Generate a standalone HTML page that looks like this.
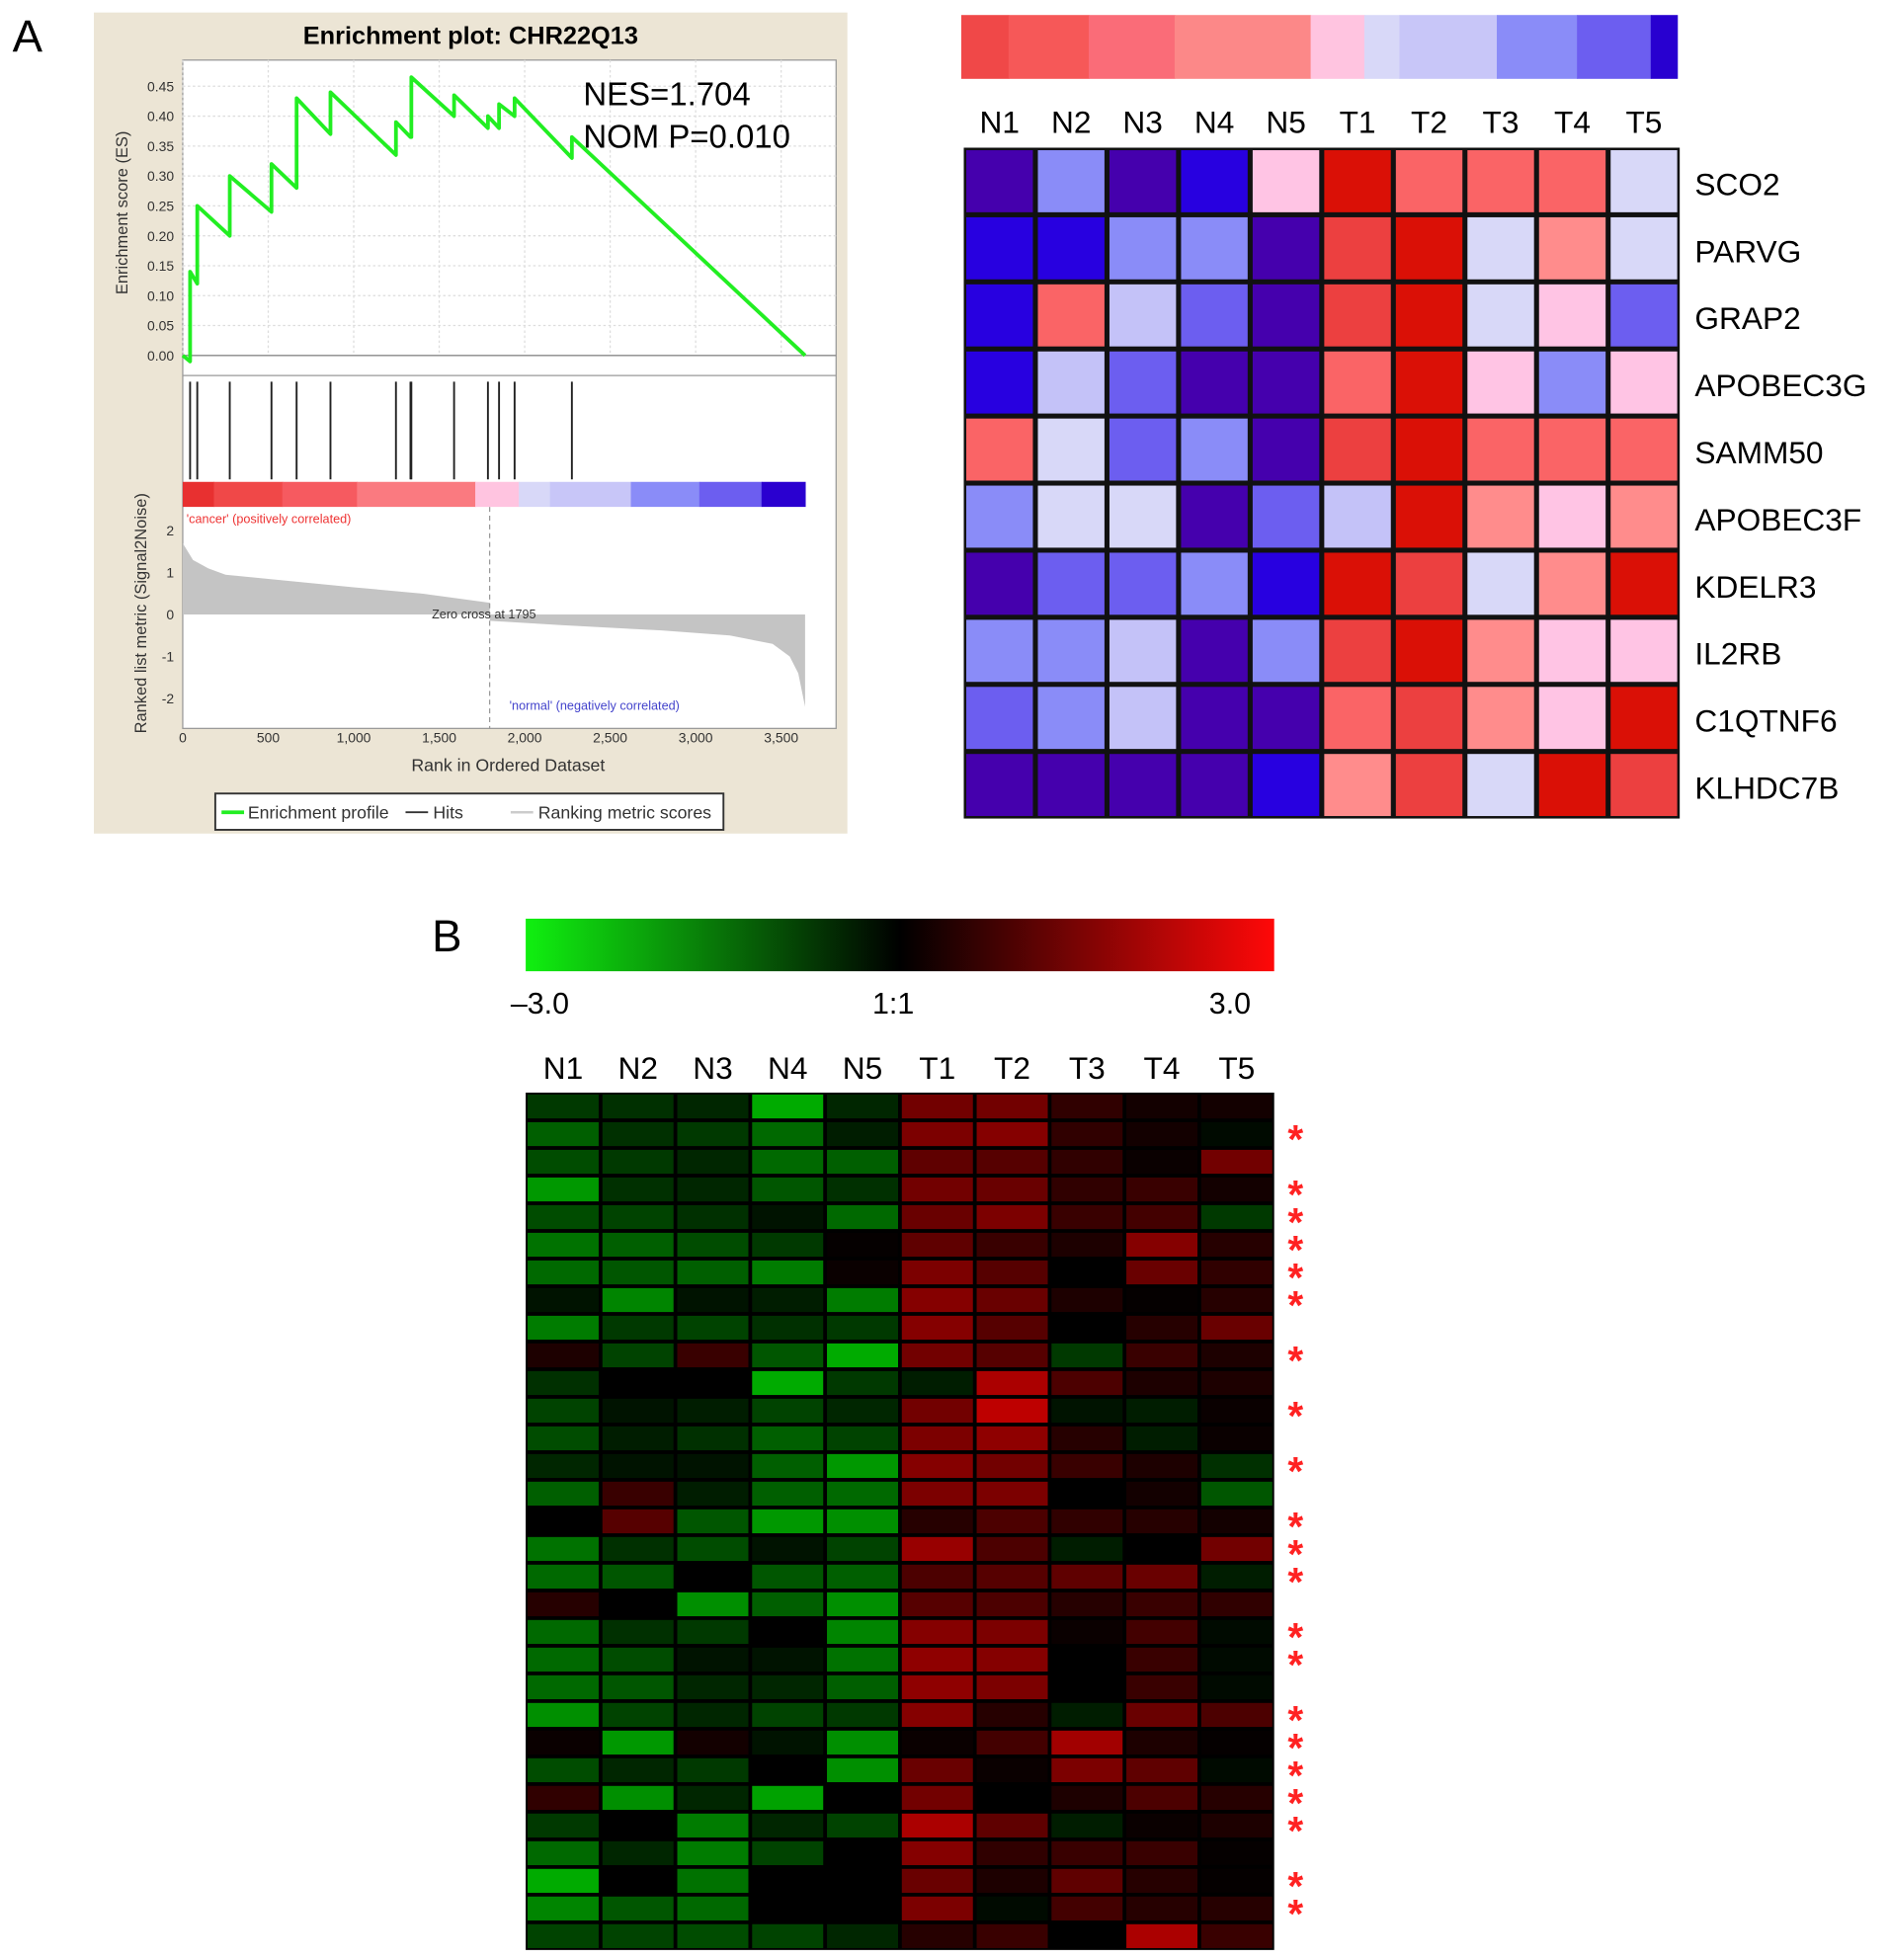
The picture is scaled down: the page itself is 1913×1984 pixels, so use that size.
<!DOCTYPE html>
<html><head><meta charset="utf-8"><style>
html,body{margin:0;padding:0;background:#fff;}
svg{display:block;font-family:"Liberation Sans",sans-serif;}
</style></head><body>
<svg id="fig" width="1913" height="1984" viewBox="0 0 1510 1566" preserveAspectRatio="none" xmlns="http://www.w3.org/2000/svg">
<text x="10" y="41" font-size="36">A</text>
<text x="345" y="760" font-size="36">B</text>
<rect x="75" y="10" width="602" height="656" fill="#ece5d5"/>
<text x="376" y="35" font-size="20" font-weight="bold" text-anchor="middle">Enrichment plot: CHR22Q13</text>
<rect x="146" y="48" width="522" height="534" fill="#fff" stroke="#999"/>
<line x1="146" y1="300" x2="668" y2="300" stroke="#999"/>
<g id="grid"></g>
<g id="gsea"></g>
<text x="466" y="84" font-size="26">NES=1.704</text>
<text x="466" y="118" font-size="26">NOM P=0.010</text>
<text transform="translate(102,170) rotate(-90)" font-size="13" fill="#333" text-anchor="middle">Enrichment score (ES)</text>
<text transform="translate(117,490) rotate(-90)" font-size="13" fill="#333" text-anchor="middle">Ranked list metric (Signal2Noise)</text>
<text x="406" y="616" font-size="14" fill="#333" text-anchor="middle">Rank in Ordered Dataset</text>
<text x="149" y="418" font-size="10" fill="#e33">'cancer' (positively correlated)</text>
<text x="407" y="567" font-size="10" fill="#44c">'normal' (negatively correlated)</text>
<text x="345" y="494" font-size="10" fill="#333">Zero cross at 1795</text>
<g>
<rect x="172" y="634" width="406" height="29" fill="#fff" stroke="#333" stroke-width="1.5"/>
<line x1="177" y1="649" x2="195" y2="649" stroke="#22ee22" stroke-width="3"/>
<text x="198" y="654" font-size="14" fill="#333">Enrichment profile</text>
<line x1="324" y1="649" x2="342" y2="649" stroke="#333" stroke-width="1.5"/>
<text x="346" y="654" font-size="14" fill="#333">Hits</text>
<line x1="408" y1="649" x2="426" y2="649" stroke="#ccc" stroke-width="2"/>
<text x="430" y="654" font-size="14" fill="#333">Ranking metric scores</text>
</g>
<g id="hmA"></g>
<g id="hmB"></g>
<defs><linearGradient id="gr" x1="0" x2="1" y1="0" y2="0">
<stop offset="0" stop-color="#10f010"/><stop offset="0.5" stop-color="#000"/><stop offset="1" stop-color="#ff0808"/></linearGradient></defs>
<rect x="420" y="734" width="598" height="42" fill="url(#gr)"/>
<text x="408" y="810" font-size="24">–3.0</text>
<text x="697" y="810" font-size="24">1:1</text>
<text x="966" y="810" font-size="24">3.0</text>
</svg>
<script>
const hitRanks=[43,85,275,519,666,864,1247,1332,1337,1587,1785,1850,1941,2276];
const esBefore=[-0.01,0.12,0.20,0.24,0.28,0.37,0.335,0.365,0.365,0.40,0.38,0.38,0.40,0.33];
const esAfter=[0.14,0.25,0.30,0.32,0.43,0.44,0.39,0.365,0.465,0.435,0.40,0.42,0.43,0.365];
const totalRanks=3640;
const esTicks=[0,0.05,0.10,0.15,0.20,0.25,0.30,0.35,0.40,0.45];
const metricRanks=[0,60,150,250,500,1000,1400,1795,1796,2200,2800,3200,3450,3550,3600,3640];
const metricValues=[1.7,1.3,1.1,0.95,0.85,0.65,0.5,0.28,-0.15,-0.25,-0.38,-0.5,-0.7,-1.0,-1.4,-2.2];
const metricTicks=[2,1,0,-1,-2];
const rankTicks=[0,500,1000,1500,2000,2500,3000,3500];
const barStops=[0,0.05,0.16,0.28,0.47,0.54,0.59,0.72,0.83,0.93,1];
const barColors=["#e83030","#f04848","#f65a60","#fa7a80","#ffc4e0","#d8d8f8","#c8c6f8","#8a8cf8","#6c5ef0","#2a00d0"];
const topStops=[0,0.066,0.178,0.298,0.488,0.563,0.612,0.748,0.860,0.963,1];
const topColors=["#f04848","#f65858","#fa6c78","#fc8888","#ffc4e0","#d8d8f8","#c8c6f8","#8a8cf8","#6c5ef0","#2800d0"];
const NS="http://www.w3.org/2000/svg";
function mk(t,a,p){const e=document.createElementNS(NS,t);for(const k in a)e.setAttribute(k,a[k]);p.appendChild(e);return e;}
const xR=r=>146+r*0.1366, yES=v=>284-v*478, yM=v=>491-v*33.5;
const g=document.getElementById('gsea'), grid=document.getElementById('grid');
esTicks.forEach(v=>{
  const l=mk('line',{x1:146,x2:668,y1:yES(v),y2:yES(v),stroke:v===0?'#888':'#ddd','stroke-dasharray':v===0?'':'2,2'},grid);
  
  
  const t=mk('text',{x:139,y:yES(v)+4,'font-size':11,'text-anchor':'end',fill:'#333'},grid);t.textContent=v.toFixed(2);
  
  
});
rankTicks.forEach(r=>{
  const l=mk('line',{x1:xR(r),x2:xR(r),y1:48,y2:284,stroke:'#ddd','stroke-dasharray':'2,2'},grid);
  
  
  const t=mk('text',{x:xR(r),y:593,'font-size':11,'text-anchor':'middle',fill:'#333'},grid);t.textContent=r.toLocaleString('en-US');
  
  
});
metricTicks.forEach(v=>{
  const t=mk('text',{x:139,y:yM(v)+4,'font-size':11,'text-anchor':'end',fill:'#333'},grid);t.textContent=v;
  
  
});
let d='M'+xR(0)+','+yM(0);
metricRanks.forEach((r,i)=>{d+=' L'+xR(r)+','+yM(metricValues[i]);});
d+=' L'+xR(totalRanks)+','+yM(0)+' Z';
const area=mk('path',{d:d,fill:'#c4c4c4'},g);


const zl=mk('line',{x1:xR(1795),x2:xR(1795),y1:405,y2:582,stroke:'#999','stroke-dasharray':'4,3'},g);


for(let i=0;i<barColors.length;i++){
  const r=mk('rect',{x:xR(barStops[i]*totalRanks),y:385,width:(barStops[i+1]-barStops[i])*totalRanks*0.1366+0.5,height:20,fill:barColors[i]},g);
  
  
}
hitRanks.forEach(r=>{
  const l=mk('line',{x1:xR(r),x2:xR(r),y1:305,y2:383,stroke:'#222','stroke-width':1.5},g);
  
  
});
let p='M'+xR(0)+','+yES(0);
hitRanks.forEach((r,i)=>{p+=' L'+xR(r)+','+yES(esBefore[i])+' L'+xR(r)+','+yES(esAfter[i]);});
p+=' L'+xR(totalRanks)+','+yES(0);
const es=mk('path',{d:p,fill:'none',stroke:'#22ee22','stroke-width':3,'stroke-linejoin':'round'},g);



const samples=["N1","N2","N3","N4","N5","T1","T2","T3","T4","T5"];
const genesA=["SCO2","PARVG","GRAP2","APOBEC3G","SAMM50","APOBEC3F","KDELR3","IL2RB","C1QTNF6","KLHDC7B"];
const rowsA=[
[-5,-3,-5,-6,1,5,3,3,3,-1],
[-6,-6,-3,-3,-5,4,5,-1,2,-1],
[-6,3,-2,-4,-5,4,5,-1,1,-4],
[-6,-2,-4,-5,-5,3,5,1,-3,1],
[3,-1,-4,-3,-5,4,5,3,3,3],
[-3,-1,-1,-5,-4,-2,5,2,1,2],
[-5,-4,-4,-3,-6,5,4,-1,2,5],
[-3,-3,-2,-5,-3,4,5,2,1,1],
[-4,-3,-2,-5,-5,3,4,2,1,5],
[-5,-5,-5,-5,-6,2,4,-1,5,4]];
const palA={"-6":"#2800e0","-5":"#4500ad","-4":"#6c5ef0","-3":"#8a8cf8","-2":"#c4c2f8","-1":"#d8d8f8","1":"#ffc4e4","2":"#ff8c8c","3":"#fa6466","4":"#ec4040","5":"#da1006"};
const hA=document.getElementById('hmA');
for(let i=0;i<topColors.length;i++){
  const r=mk('rect',{x:768+topStops[i]*572,y:12,width:(topStops[i+1]-topStops[i])*572+0.5,height:51,fill:topColors[i]},hA);
  
  
}
const ax=770,ay=118,cw=57.2,ch=53.6;
mk('rect',{x:ax,y:ay,width:cw*10,height:ch*10,fill:'#111'},hA);
rowsA.forEach((row,i)=>{
  row.forEach((v,j)=>{
    const r=mk('rect',{x:ax+j*cw+2,y:ay+i*ch+2,width:cw-4,height:ch-4,fill:palA[v]},hA);
    
    
  });
  const t=mk('text',{x:1354,y:ay+i*ch+ch/2+11,'font-size':25},hA);t.textContent=genesA[i];
  
  
});
samples.forEach((s,j)=>{
  const t=mk('text',{x:ax+j*cw+cw/2,y:106,'font-size':25,'text-anchor':'middle'},hA);t.textContent=s;
  
  
});

const rowsB=[
[-0.6,-0.5,-0.4,-1.8,-0.4,1.2,1.2,0.5,0.2,0.2],
[-1.0,-0.5,-0.6,-1.1,-0.3,1.3,1.4,0.5,0.2,-0.1],
[-0.8,-0.6,-0.4,-1.1,-1.0,1.0,0.9,0.5,0.1,1.2],
[-1.6,-0.5,-0.4,-0.9,-0.5,1.2,1.1,0.5,0.6,0.2],
[-0.8,-0.7,-0.5,-0.2,-1.1,1.1,1.3,0.6,0.7,-0.6],
[-1.2,-1.0,-0.8,-0.6,0.05,1.0,0.6,0.3,1.4,0.4],
[-1.1,-0.9,-1.0,-1.3,0.1,1.3,0.9,0,1.1,0.5],
[-0.2,-1.4,-0.2,-0.3,-1.3,1.4,1.1,0.3,0.05,0.4],
[-1.3,-0.6,-0.7,-0.5,-0.6,1.4,0.9,0,0.4,1.1],
[0.3,-0.7,0.6,-0.9,-1.8,1.2,0.9,-0.6,0.6,0.3],
[-0.5,0,0,-1.8,-0.6,-0.3,1.8,0.8,0.3,0.3],
[-0.7,-0.2,-0.3,-0.7,-0.4,1.2,2.0,-0.2,-0.3,0.1],
[-0.8,-0.3,-0.5,-1.0,-0.7,1.3,1.5,0.4,-0.3,0.1],
[-0.4,-0.2,-0.2,-1.0,-1.6,1.4,1.2,0.6,0.3,-0.5],
[-1.0,0.6,-0.3,-1.0,-1.1,1.3,1.3,0,0.2,-0.9],
[0,0.9,-0.9,-1.6,-1.5,0.4,0.8,0.5,0.4,0.2],
[-1.2,-0.5,-0.8,-0.2,-0.7,1.6,0.8,-0.3,0,1.2],
[-1.1,-0.9,0,-0.9,-1.0,0.8,0.9,1.0,1.1,-0.3],
[0.4,0,-1.5,-1.0,-1.5,0.9,0.8,0.4,0.6,0.5],
[-1.1,-0.5,-0.6,0,-1.4,1.4,1.3,0.1,0.7,-0.1],
[-1.1,-0.8,-0.2,-0.2,-1.2,1.5,1.4,0,0.6,-0.1],
[-1.1,-0.9,-0.4,-0.4,-1.0,1.5,1.3,0,0.6,-0.1],
[-1.5,-0.7,-0.4,-0.7,-0.6,1.4,0.4,-0.3,1.1,0.8],
[0.1,-1.6,0.2,-0.2,-1.5,0.1,0.7,1.7,0.3,0.05],
[-0.8,-0.4,-0.6,0,-1.5,1.1,0.1,1.3,1.0,-0.1],
[0.5,-1.5,-0.4,-1.7,0,1.2,0,0.3,0.8,0.4],
[-0.6,0,-1.3,-0.4,-0.7,1.8,1.0,-0.3,0.1,0.3],
[-1.1,-0.4,-1.3,-0.7,0,1.4,0.5,0.6,0.6,0.05],
[-1.8,0,-1.2,0,0,1.1,0.3,1.0,0.4,0.05],
[-1.4,-0.9,-1.1,0,0,1.3,-0.1,0.7,0.4,0.4],
[-0.7,-0.7,-0.8,-0.7,-0.4,0.4,0.6,0,1.8,0.6]];
const starRows=[1,3,4,5,6,7,9,11,13,15,16,17,19,20,22,23,24,25,26,28,29];
const hB=document.getElementById('hmB');
const bx=420,by=873,bw=59.8,bh=685/31;
mk('rect',{x:bx,y:by,width:bw*10,height:bh*31,fill:'#000'},hB);
function colB(v){const c=Math.min(255,Math.round(Math.abs(v)*95));return v<0?'rgb(0,'+c+',0)':'rgb('+c+',0,0)';}
rowsB.forEach((row,i)=>{
  row.forEach((v,j)=>{
    const r=mk('rect',{x:bx+j*bw+1.5,y:by+i*bh+1.5,width:bw-3,height:bh-3,fill:colB(v)},hB);
    
    
  });
});
starRows.forEach(i=>{
  const t=mk('text',{x:1035,y:by+(i+0.55)*bh+14,'font-size':32,'font-weight':'bold',fill:'#f22','text-anchor':'middle'},hB);t.textContent='*';
  
  
});
samples.forEach((s,j)=>{
  const t=mk('text',{x:bx+j*bw+bw/2,y:862,'font-size':25,'text-anchor':'middle'},hB);t.textContent=s;
  
  
});
</script>
</body></html>
